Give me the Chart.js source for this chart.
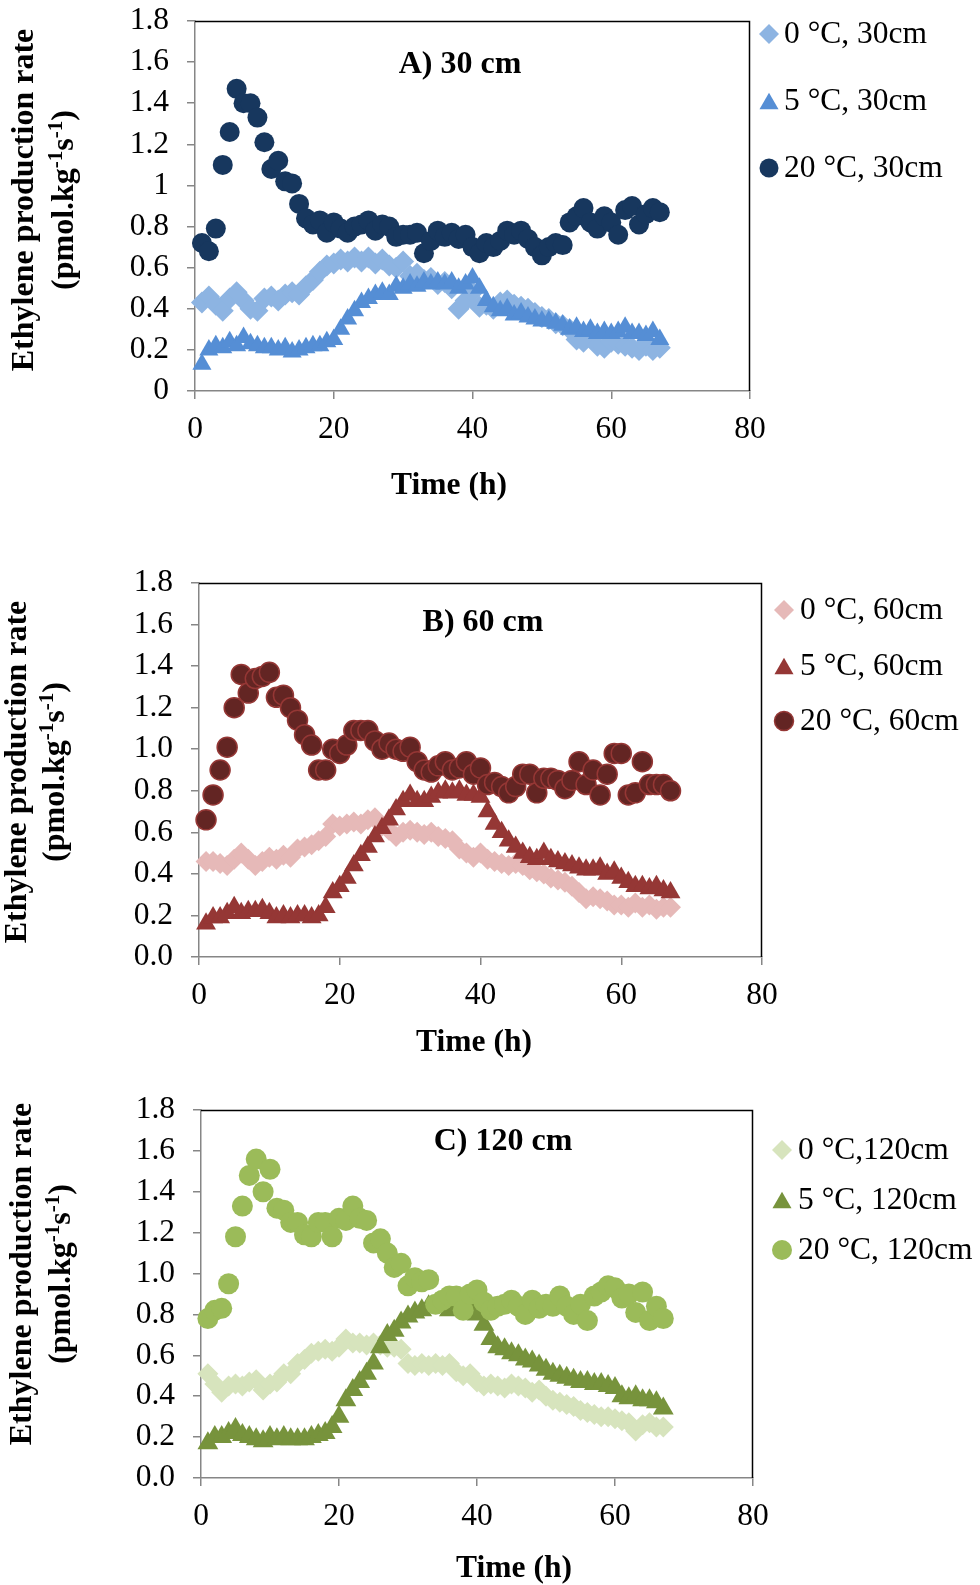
<!DOCTYPE html>
<html>
<head>
<meta charset="utf-8">
<script src="https://cdn.jsdelivr.net/npm/chart.js@4.4.1/dist/chart.umd.min.js"></script>
<style>
  html, body { margin: 0; padding: 0; background: #fff; }
  body { width: 980px; height: 1585px; position: relative; overflow: hidden; }
  canvas { position: absolute; left: 0; }
</style>
</head>
<body>
<canvas id="chartA" width="980" height="550" style="top:-30px"></canvas>
<canvas id="chartB" width="980" height="540" style="top:530px"></canvas>
<canvas id="chartC" width="980" height="525" style="top:1060px"></canvas>

<script>
// sampling times (h)
const hours = [1,2,3,4,5,6,7,8,9,10,11,12,13,14,15,16,17,18,19,20,
  21,22,23,24,25,26,27,28,29,30,31,32,33,34,35,36,37,38,39,40,
  41,42,43,44,45,46,47,48,49,50,51,52,53,54,55,56,57,58,59,60,
  61,62,63,64,65,66,67];

// A) 30 cm
const a0C = [0.43,0.46,0.42,0.39,0.45,0.48,0.44,0.40,0.39,0.45,0.46,0.44,0.47,0.48,0.47,0.51,0.54,0.58,0.61,0.62,
  0.64,0.63,0.65,0.63,0.65,0.62,0.64,0.61,0.60,0.63,0.56,0.57,0.54,0.55,0.52,0.53,0.50,0.40,0.44,0.48,
  0.41,0.42,0.40,0.43,0.44,0.42,0.41,0.40,0.38,0.36,0.35,0.33,0.32,0.30,0.25,0.24,0.26,0.22,0.21,0.24,
  0.23,0.22,0.21,0.20,0.22,0.20,0.21];
const a5C = [0.13,0.20,0.22,0.21,0.24,0.22,0.26,0.23,0.22,0.21,0.21,0.20,0.21,0.19,0.20,0.21,0.22,0.22,0.24,0.25,
  0.30,0.35,0.39,0.43,0.45,0.47,0.48,0.47,0.51,0.50,0.52,0.51,0.53,0.52,0.53,0.52,0.53,0.50,0.52,0.55,
  0.50,0.44,0.41,0.39,0.40,0.37,0.38,0.36,0.35,0.34,0.34,0.33,0.32,0.30,0.31,0.29,0.30,0.28,0.29,0.28,
  0.29,0.31,0.28,0.28,0.27,0.29,0.25];
const a20C = [0.72,0.68,0.79,1.10,1.26,1.47,1.40,1.40,1.33,1.21,1.08,1.12,1.02,1.01,0.91,0.84,0.81,0.83,0.77,0.82,
  0.79,0.77,0.80,0.81,0.83,0.78,0.81,0.80,0.75,0.76,0.76,0.77,0.67,0.73,0.78,0.75,0.77,0.74,0.76,0.70,
  0.67,0.72,0.70,0.73,0.78,0.76,0.78,0.74,0.70,0.66,0.70,0.72,0.71,0.82,0.85,0.89,0.82,0.79,0.85,0.82,
  0.76,0.88,0.90,0.81,0.86,0.89,0.87];

// B) 60 cm
const b0C = [0.46,0.46,0.45,0.44,0.47,0.50,0.47,0.44,0.46,0.48,0.47,0.49,0.48,0.52,0.53,0.54,0.56,0.58,0.64,0.63,
  0.64,0.65,0.64,0.66,0.67,0.63,0.61,0.58,0.60,0.61,0.60,0.59,0.60,0.58,0.57,0.56,0.52,0.50,0.48,0.50,
  0.47,0.46,0.45,0.44,0.45,0.44,0.42,0.41,0.40,0.38,0.37,0.36,0.34,0.31,0.28,0.29,0.28,0.27,0.25,0.25,
  0.24,0.26,0.24,0.25,0.23,0.24,0.24];
const b5C = [0.16,0.19,0.19,0.21,0.24,0.21,0.22,0.22,0.23,0.21,0.19,0.20,0.19,0.20,0.20,0.19,0.20,0.24,0.31,0.34,
  0.38,0.44,0.49,0.53,0.58,0.62,0.66,0.71,0.75,0.78,0.75,0.75,0.77,0.79,0.80,0.79,0.80,0.78,0.78,0.77,
  0.70,0.64,0.60,0.56,0.53,0.50,0.48,0.47,0.50,0.47,0.46,0.45,0.44,0.43,0.42,0.42,0.43,0.40,0.41,0.38,
  0.36,0.34,0.34,0.33,0.34,0.32,0.31];
const b20C = [0.66,0.78,0.90,1.01,1.20,1.36,1.27,1.34,1.35,1.37,1.25,1.26,1.20,1.14,1.07,1.02,0.90,0.90,1.00,0.98,
  1.02,1.09,1.09,1.09,1.04,1.00,1.03,1.00,0.99,1.01,0.94,0.90,0.89,0.92,0.94,0.90,0.91,0.94,0.88,0.91,
  0.83,0.84,0.82,0.79,0.82,0.88,0.88,0.79,0.86,0.86,0.85,0.81,0.85,0.94,0.83,0.90,0.78,0.88,0.98,0.98,
  0.78,0.79,0.94,0.83,0.83,0.83,0.80];

// C) 120 cm
const c0C = [0.51,0.46,0.42,0.45,0.46,0.45,0.47,0.48,0.43,0.46,0.47,0.51,0.51,0.56,0.58,0.61,0.62,0.63,0.62,0.64,
  0.68,0.66,0.66,0.65,0.66,0.65,0.64,0.64,0.63,0.56,0.55,0.56,0.55,0.56,0.55,0.56,0.52,0.50,0.51,0.47,
  0.45,0.46,0.45,0.44,0.46,0.45,0.44,0.42,0.43,0.40,0.38,0.37,0.36,0.35,0.33,0.32,0.31,0.30,0.30,0.29,
  0.28,0.27,0.23,0.26,0.27,0.25,0.25];
const c5C = [0.17,0.20,0.20,0.22,0.24,0.21,0.20,0.19,0.18,0.20,0.19,0.20,0.19,0.19,0.19,0.20,0.21,0.22,0.25,0.30,
  0.38,0.43,0.47,0.51,0.56,0.64,0.70,0.72,0.76,0.79,0.81,0.82,0.84,0.85,0.84,0.82,0.83,0.84,0.85,0.80,
  0.75,0.68,0.64,0.63,0.61,0.60,0.58,0.57,0.55,0.53,0.51,0.50,0.49,0.48,0.47,0.47,0.46,0.46,0.45,0.44,
  0.40,0.39,0.40,0.38,0.38,0.37,0.34];
const c20C = [0.78,0.82,0.83,0.95,1.18,1.33,1.48,1.56,1.40,1.51,1.32,1.31,1.25,1.25,1.19,1.18,1.25,1.25,1.18,1.27,
  1.26,1.33,1.27,1.26,1.15,1.17,1.10,1.03,1.05,0.94,0.98,0.96,0.97,0.85,0.87,0.89,0.89,0.82,0.90,0.92,
  0.86,0.82,0.84,0.85,0.87,0.84,0.80,0.87,0.83,0.85,0.84,0.89,0.84,0.80,0.85,0.77,0.89,0.91,0.94,0.93,
  0.88,0.90,0.81,0.91,0.77,0.84,0.78];

const xTickLabels = ['0', '20', '40', '60', '80'];
const yTickLabelsA = ['0', '0.2', '0.4', '0.6', '0.8', '1', '1.2', '1.4', '1.6', '1.8'];
const yTickLabelsBC = ['0.0', '0.2', '0.4', '0.6', '0.8', '1.0', '1.2', '1.4', '1.6', '1.8'];

const legendA = ['0 °C, 30cm', '5 °C, 30cm', '20 °C, 30cm'];
const legendB = ['0 °C, 60cm', '5 °C, 60cm', '20 °C, 60cm'];
const legendC = ['0 °C,120cm', '5 °C, 120cm', '20 °C, 120cm'];

const SERIF = '"Liberation Serif", "Times New Roman", serif';
Chart.defaults.font.family = SERIF;
Chart.defaults.color = '#000';

function toPoints(values) {
  return hours.map((h, i) => ({ x: h, y: values[i] }));
}

function drawMarker(ctx, shape, x, y, r, fill, stroke, lw) {
  ctx.beginPath();
  if (shape === 'circle') {
    ctx.arc(x, y, r, 0, Math.PI * 2);
  } else if (shape === 'diamond') {
    ctx.moveTo(x - r, y); ctx.lineTo(x, y - r); ctx.lineTo(x + r, y); ctx.lineTo(x, y + r);
  } else {
    const dy = r * 0.25;
    ctx.moveTo(x, y - r + dy); ctx.lineTo(x + r * 0.866, y + r / 2 + dy); ctx.lineTo(x - r * 0.866, y + r / 2 + dy);
  }
  ctx.closePath();
  ctx.fillStyle = fill;
  ctx.fill();
  if (lw) { ctx.lineWidth = lw; ctx.strokeStyle = stroke; ctx.stroke(); }
}

function drawYTitle(ctx, x1, x2, cy) {
  ctx.save();
  ctx.fillStyle = '#000';
  ctx.translate(x1, cy);
  ctx.rotate(-Math.PI / 2);
  ctx.font = 'bold 32px ' + SERIF;
  ctx.textAlign = 'center';
  ctx.textBaseline = 'middle';
  ctx.fillText('Ethylene production rate', 0, 0);
  ctx.restore();

  const parts = [['(pmol.kg', false], ['-1', true], ['s', false], ['-1', true], [')', false]];
  const big = 'bold 32px ' + SERIF;
  const small = 'bold 21px ' + SERIF;
  ctx.save();
  ctx.fillStyle = '#000';
  ctx.translate(x2, cy);
  ctx.rotate(-Math.PI / 2);
  let total = 0;
  parts.forEach(([t, sup]) => { ctx.font = sup ? small : big; total += ctx.measureText(t).width; });
  let pos = -total / 2;
  ctx.textAlign = 'left';
  ctx.textBaseline = 'alphabetic';
  parts.forEach(([t, sup]) => {
    ctx.font = sup ? small : big;
    ctx.fillText(t, pos, sup ? -1 : 10);
    pos += ctx.measureText(t).width;
  });
  ctx.restore();
}

function makeDeco(cfg) {
  return {
    id: 'deco' + cfg.id,
    afterDraw(chart) {
      const ctx = chart.ctx;
      const a = chart.chartArea;
      const top = cfg.canvasTop;
      // plot frame (top & right), the axes draw left & bottom
      ctx.save();
      ctx.strokeStyle = '#000';
      ctx.lineWidth = 1.5;
      ctx.beginPath();
      ctx.moveTo(a.left, a.top + 0.5);
      ctx.lineTo(a.right - 0.5, a.top + 0.5);
      ctx.lineTo(a.right - 0.5, a.bottom);
      ctx.stroke();

      // panel title
      ctx.fillStyle = '#000';
      ctx.font = 'bold 32px ' + SERIF;
      ctx.textAlign = 'center';
      ctx.textBaseline = 'middle';
      ctx.fillText(cfg.title, cfg.titlePos[0], cfg.titlePos[1] - top);

      // x axis title
      ctx.font = 'bold 31.5px ' + SERIF;
      ctx.fillText('Time (h)', cfg.xTitlePos[0], cfg.xTitlePos[1] - top);
      ctx.restore();

      drawYTitle(ctx, cfg.yTitle[0], cfg.yTitle[1], cfg.yTitle[2] - top);

      // legend
      ctx.save();
      ctx.font = '31.5px ' + SERIF;
      ctx.textAlign = 'left';
      ctx.textBaseline = 'middle';
      cfg.legend.forEach((label, i) => {
        const y = cfg.legendRows[i] - top;
        const s = cfg.styles[i];
        drawMarker(ctx, s.shape, cfg.legendX[0], y, s.legendR, s.fill, s.stroke, s.lw);
        ctx.fillStyle = '#000';
        ctx.fillText(label, cfg.legendX[1], y + 1);
      });
      ctx.restore();
    }
  };
}

function buildPanel(canvasId, cfg) {
  const canvas = document.getElementById(canvasId);
  const YW = 90, XH = 60;
  const pad = {
    left: cfg.plot.l - YW,
    right: 980 - cfg.plot.r,
    top: cfg.plot.t - cfg.canvasTop,
    bottom: canvas.height - (cfg.plot.b - cfg.canvasTop) - XH
  };
  const chartStyle = { 'circle': 'circle', 'diamond': 'rectRot', 'triangle': 'triangle' };
  const datasets = cfg.series.map((values, i) => {
    const s = cfg.styles[i];
    return {
      label: cfg.legend[i],
      data: toPoints(values),
      pointStyle: chartStyle[s.shape],
      pointRadius: s.r,
      pointHoverRadius: s.r,
      backgroundColor: s.fill,
      borderColor: s.stroke,
      pointBorderWidth: s.lw,
      showLine: false,
      clip: false,
      order: s.order
    };
  });

  return new Chart(canvas, {
    type: 'scatter',
    data: { datasets },
    options: {
      responsive: false,
      animation: false,
      events: [],
      layout: { padding: pad },
      plugins: { legend: { display: false }, tooltip: { enabled: false } },
      scales: {
        x: {
          type: 'linear',
          min: 0, max: 80,
          afterFit: scale => { scale.height = XH; },
          border: { display: true, color: '#868686', width: 1.5 },
          grid: { display: true, drawOnChartArea: false, drawTicks: true, tickLength: 8, color: '#868686', lineWidth: 1.5 },
          ticks: {
            stepSize: 20,
            padding: 12,
            maxRotation: 0,
            font: { size: 31.5 },
            color: '#000',
            callback: (v, i) => xTickLabels[i]
          }
        },
        y: {
          type: 'linear',
          min: 0, max: 1.8,
          afterFit: scale => { scale.width = YW; },
          border: { display: true, color: '#868686', width: 1.5 },
          grid: { display: true, drawOnChartArea: false, drawTicks: true, tickLength: 8, color: '#868686', lineWidth: 1.5 },
          ticks: {
            stepSize: 0.2,
            padding: 18,
            font: { size: 31.5 },
            color: '#000',
            callback: (v, i) => cfg.yLabels[i]
          }
        }
      }
    },
    plugins: [makeDeco(cfg)]
  });
}

buildPanel('chartA', {
  id: 'A',
  canvasTop: -30,
  plot: { l: 195, r: 750, t: 21, b: 391 },
  series: [a0C, a5C, a20C],
  legend: legendA,
  yLabels: yTickLabelsA,
  title: 'A) 30 cm',
  titlePos: [460, 65],
  xTitlePos: [449, 486],
  yTitle: [25, 63, 200],
  legendX: [769, 784],
  legendRows: [34, 101, 168],
  styles: [
    { shape: 'diamond', r: 11, legendR: 10, fill: '#8DB4E2', stroke: '#8DB4E2', lw: 0, order: 2 },
    { shape: 'triangle', r: 11, legendR: 11, fill: '#558ED5', stroke: '#558ED5', lw: 0, order: 1 },
    { shape: 'circle', r: 10, legendR: 9.5, fill: '#17375E', stroke: '#17375E', lw: 0, order: 0 }
  ]
});

buildPanel('chartB', {
  id: 'B',
  canvasTop: 530,
  plot: { l: 199, r: 762, t: 583, b: 957 },
  series: [b0C, b5C, b20C],
  legend: legendB,
  yLabels: yTickLabelsBC,
  title: 'B) 60 cm',
  titlePos: [483, 623],
  xTitlePos: [474, 1043],
  yTitle: [18, 54, 772],
  legendX: [784, 800],
  legendRows: [610, 666, 721],
  styles: [
    { shape: 'diamond', r: 10.5, legendR: 10, fill: '#E6B9B8', stroke: '#E6B9B8', lw: 0, order: 2 },
    { shape: 'triangle', r: 11.5, legendR: 11, fill: '#953735', stroke: '#953735', lw: 0, order: 1 },
    { shape: 'circle', r: 10, legendR: 9.5, fill: '#632523', stroke: '#953735', lw: 1.5, order: 0 }
  ]
});

buildPanel('chartC', {
  id: 'C',
  canvasTop: 1060,
  plot: { l: 201, r: 753, t: 1110, b: 1478 },
  series: [c0C, c5C, c20C],
  legend: legendC,
  yLabels: yTickLabelsBC,
  title: 'C) 120 cm',
  titlePos: [503, 1142],
  xTitlePos: [514, 1569],
  yTitle: [23, 60, 1274],
  legendX: [782, 798],
  legendRows: [1150, 1200, 1250],
  styles: [
    { shape: 'diamond', r: 10.5, legendR: 10, fill: '#D7E4BD', stroke: '#D7E4BD', lw: 0, order: 2 },
    { shape: 'triangle', r: 12, legendR: 11, fill: '#77933C', stroke: '#77933C', lw: 0, order: 1 },
    { shape: 'circle', r: 10.5, legendR: 10, fill: '#9BBB59', stroke: '#9BBB59', lw: 0, order: 0 }
  ]
});
</script>
</body>
</html>
